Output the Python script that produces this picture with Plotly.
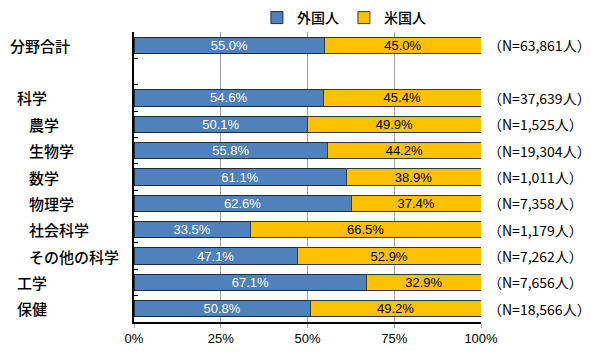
import plotly.graph_objects as go

categories = ["分野合計", "", "科学", "農学", "生物学", "数学", "物理学", "社会科学", "その他の科学", "工学", "保健"]
foreign = [55.0, None, 54.6, 50.1, 55.8, 61.1, 62.6, 33.5, 47.1, 67.1, 50.8]
us = [45.0, None, 45.4, 49.9, 44.2, 38.9, 37.4, 66.5, 52.9, 32.9, 49.2]
n_labels = ["（N=63,861人）", "", "（N=37,639人）", "（N=1,525人）", "（N=19,304人）", "（N=1,011人）",
            "（N=7,358人）", "（N=1,179人）", "（N=7,262人）", "（N=7,656人）", "（N=18,566人）"]
indent = [0, 0, 1, 2, 2, 2, 2, 2, 2, 1, 1]
x_ticks = [0, 25, 50, 75, 100]
x_ticklabels = ["0%", "25%", "50%", "75%", "100%"]

ycats = [c if c else " " for c in categories]
bar_font = "Liberation Sans Narrow, Arial Narrow, Liberation Sans"

fig = go.Figure()
fig.add_trace(go.Bar(
    name="外国人", y=ycats, x=foreign, orientation="h",
    marker=dict(color="#4F81BD", line=dict(color="#1F2D3D", width=1)),
    text=[f"{v:.1f}%" if v is not None else "" for v in foreign],
    textposition="inside", insidetextanchor="middle", textangle=0, constraintext="none",
    textfont=dict(color="white", size=13, family=bar_font),
))
fig.add_trace(go.Bar(
    name="米国人", y=ycats, x=us, orientation="h",
    marker=dict(color="#FFC000", line=dict(color="#3A3A3A", width=1)),
    text=[f"{v:.1f}%" if v is not None else "" for v in us],
    textposition="inside", insidetextanchor="middle", textangle=0, constraintext="none",
    textfont=dict(color="black", size=13, family=bar_font),
))

OFF = 8  # page offset
L, R, T, B = 134 - OFF, 119, 32 - OFF, 41
W, H = 600 - OFF, 363 - OFF
pw = W - L - R
ph = H - T - B
indent_px = [10, 17, 29]
anns = []
for c, ind, nl in zip(categories, indent, n_labels):
    if not c:
        continue
    anns.append(dict(xref="paper", yref="y", x=(indent_px[ind] - OFF - L) / pw, y=c,
                     text=c, showarrow=False, xanchor="left", xshift=-2,
                     font=dict(size=15, color="black", family="Noto Sans CJK JP", weight=500)))
    anns.append(dict(xref="paper", yref="y", x=(486 - OFF - L) / pw, y=c,
                     text=nl, showarrow=False, xanchor="left",
                     font=dict(size=14, color="black", family="Noto Sans CJK JP")))

fig.update_layout(
    width=W, height=H,
    margin=dict(l=L, r=R, t=T, b=B, autoexpand=False),
    barmode="stack", bargap=0.38,
    plot_bgcolor="white", paper_bgcolor="white",
    font=dict(family="Noto Sans CJK JP", size=13, color="black"),
    showlegend=True,
    legend=dict(orientation="h", x=0.605, xanchor="center", y=1 + (32 - 18) / ph, yanchor="middle",
                font=dict(size=14, weight=500), itemwidth=30, tracegroupgap=0, traceorder="normal",
                bgcolor="rgba(0,0,0,0)", borderwidth=0),
    xaxis=dict(range=[0, 100], tickvals=x_ticks, ticktext=x_ticklabels,
               showgrid=True, gridcolor="#A6A6A6", gridwidth=1,
               showline=True, linecolor="black", linewidth=1.5,
               ticks="outside", ticklen=4, tickcolor="#A6A6A6",
               tickfont=dict(size=13, family="Liberation Sans Narrow, Liberation Sans"), zeroline=False),
    yaxis=dict(type="category", categoryorder="array", categoryarray=ycats,
               range=[len(ycats) - 0.5, -0.5],
               showticklabels=False, showline=True, linecolor="black", linewidth=1.5,
               ticks="inside", tickson="boundaries", ticklen=4, tickcolor="black",
               showgrid=False),
    annotations=anns,
)
fig.write_html("out.html")
